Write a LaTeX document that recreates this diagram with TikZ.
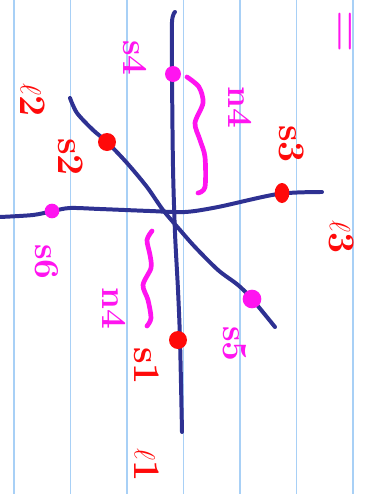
\documentclass[tikz,border=0pt]{standalone}
\usetikzlibrary{positioning,calc,shapes.geometric}
\definecolor{Ink}{HTML}{2E3192}
\definecolor{Pen}{HTML}{FF0A0A}
\definecolor{Marker}{HTML}{FF14F0}
\definecolor{Rule}{HTML}{A8D0F6}
\tikzset{
  sketch line/.style={draw=Ink,line width=3.4pt,line cap=round,line join=round},
  paper rule/.style={draw=Rule,line width=1.6pt},
  red dot/.style={circle,fill=Pen,inner sep=0pt,minimum size=.54cm},
  pink dot/.style={circle,fill=Marker,inner sep=0pt,minimum size=.48cm},
  red label/.style={rotate=-90,text=Pen,font=\fontsize{32}{32}\selectfont\bfseries,inner sep=0pt},
  pink label/.style={rotate=-90,text=Marker,font=\fontsize{30}{30}\selectfont\bfseries,inner sep=0pt},
  brace stroke/.style={draw=Marker,line width=4pt,line cap=round,line join=round}
}

\begin{document}
\begin{tikzpicture}[x=0.03cm,y=-0.03cm]
  \useasboundingbox (0,0) rectangle (370,494);
  \clip (0,0) rectangle (370,494);
  \fill[white] (0,0) rectangle (370,494);
  % ruled paper
  \foreach \rx in {14,70.5,127,183.5,240,296.5,353}
    \draw[paper rule] (\rx,0) -- (\rx,494);
  % the three lines
  \draw[sketch line] plot[smooth] coordinates {(175,12) (172,22) (172,73) (173,167) (175,233) (178,290) (180,340) (182,432)};
  \draw[sketch line] plot[smooth] coordinates {(0,217) (33,215) (53,211) (70,208) (100,209) (150,211) (185,212) (218,207) (278,194) (322,192)};
  \draw[sketch line] plot[smooth] coordinates {(70,98) (77,113) (93,130) (107,142) (127,163) (147,187) (163,210) (180,230) (195,247) (218,270) (238,285) (252,299) (275,327)};
  % points on the lines
  \node[pink dot] (s4) at (173,74) {};
  \node[red dot] (s2) at (107,142) {};
  \node[pink dot,minimum size=.44cm] (s6) at (52,211) {};
  \node[red dot,ellipse,minimum width=.44cm,minimum height=.6cm] (s3) at (282,193) {};
  \node[red dot] (s1) at (178,340) {};
  \node[pink dot,minimum size=.56cm] (s5) at (252,299) {};
  % braces
  \draw[brace stroke] plot[smooth] coordinates {(187,77) (199,87) (203,103) (195,123) (200,140) (205,157) (205,187) (198,193)};
  \draw[brace stroke] plot[smooth] coordinates {(152,231) (147,240) (150,255) (151,268) (143,285) (148,300) (151,318) (147,326)};
  % labels
  \node[red label] (l2) at (33,100) {$\ell$2};
  \node[red label] (s2 label) at (71,157) {s2};
  \node[pink label] (s4 label) at (135,58) {s4};
  \node[red label] (s3 label) at (292,144) {s3};
  \node[red label] (l3) at (342,237) {$\ell$3};
  \node[pink label] (s6 label) at (47,262) {s6};
  \node[pink label] (s5 label) at (235,344) {s5};
  \node[red label] (s1 label) at (147,366) {s1};
  \node[red label] (l1) at (147,465) {$\ell$1};
  \node[pink label] (gap top) at (240,107) {n4};
  \node[pink label] (gap bottom) at (114,308) {n4};
  \node[rotate=-90,text=Marker,font=\fontsize{50}{50}\selectfont,inner sep=0pt] (eq) at (341,32) {=};
\end{tikzpicture}
\end{document}
